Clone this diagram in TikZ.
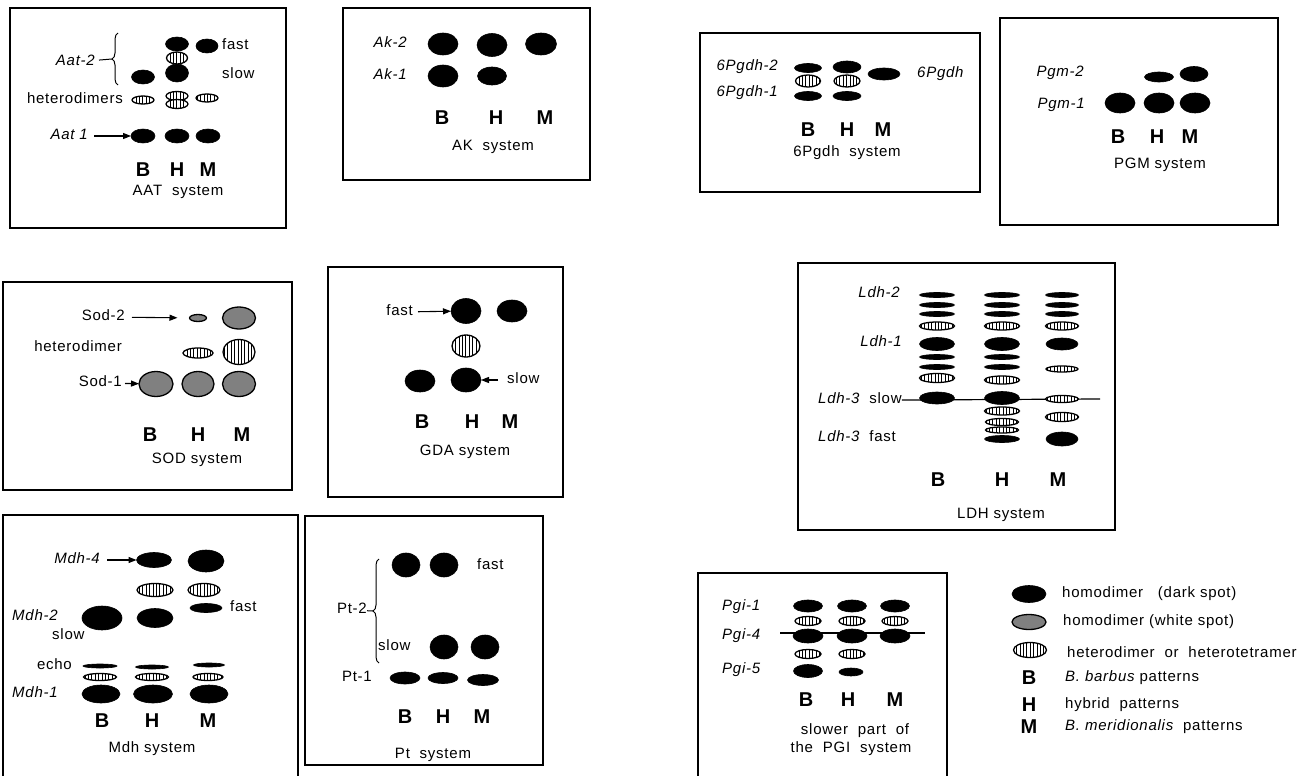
\documentclass[tikz,border=0pt]{standalone}
\usepackage{fontspec}
\setmainfont{Liberation Sans}[LetterSpace=5]
\usetikzlibrary{shapes.geometric,arrows.meta,patterns.meta,decorations.pathreplacing}
\newcommand\blob[6]{\node[#1,minimum width=#5pt,minimum height=#6pt] (#2) at (#3,#4) {};}
\tikzset{
 spotbase/.style={ellipse, inner sep=0pt, outer sep=0pt},
 dark/.style={spotbase, fill=black, draw=black, line width=0.6pt},
 grey/.style={spotbase, fill=black!50, draw=black, line width=1.3pt},
 striped/.style={spotbase, draw=black, line width=1.3pt, preaction={fill=white}, pattern={Lines[angle=90,distance=3.4pt,line width=0.9pt]}},
 lab/.style={inner sep=0pt, font=\fontsize{15}{17}\selectfont, text height=10.5pt, text depth=3.2pt},
 ilab/.style={lab, font=\fontsize{15}{17}\selectfont\itshape},
 bhm/.style={inner sep=0pt, font=\fontsize{20}{22}\selectfont\bfseries},
 box/.style={draw=black, line width=1.3pt},
 arr/.style={line width=1.1pt, -{Triangle[length=8pt,width=6pt]}},
 brc/.style={line width=1pt, decorate, decoration={brace, amplitude=6pt}},
 thin/.style={line width=1pt},
}
\begin{document}
\begin{tikzpicture}[x=1pt,y=-1pt]
\useasboundingbox (0,0) rectangle (1306,776);
% ---------------- AAT
\draw[box] (10,8) rectangle (286,228);
\node[ilab, anchor=east] (aat2) at (95,62) {Aat-2};
\draw[brc] (118,85) -- (118,33);
\coordinate (aat2tip) at (112,59);
\draw[thin, shorten <=4pt] (aat2) -- (aat2tip);
\blob{dark}{aBs}{143}{77}{23}{14}
\blob{dark}{aHf}{177}{44}{23}{14}
\blob{dark}{aHs}{177}{73}{23}{18}
\blob{striped}{aHm}{177}{58}{21}{12}
\blob{dark}{aMf}{207}{46}{22}{14}
\node[lab, anchor=west] (afast) at (222,46) {fast};
\node[lab, anchor=west] (aslow) at (222,75) {slow};
\node[lab, anchor=east] (ahet) at (123,100) {heterodimers};
\blob{striped}{aBh}{143}{100}{22}{8}
\blob{striped}{aHhA}{177}{96}{22}{9}
\blob{striped}{aHhB}{177}{104}{22}{9}
\blob{striped}{aMh}{207}{98}{22}{8}
\node[ilab, anchor=east] (aat1) at (88,136) {Aat 1};
\blob{dark}{aBa}{143}{136}{24}{14}
\blob{dark}{aHa}{177}{136}{24}{14}
\blob{dark}{aMa}{208}{136}{24}{14}
\draw[arr, shorten <=6pt] (aat1) -- (aBa);
\node[bhm] (aB) at (143,170) {B};
\node[bhm] (aH) at (177,170) {H};
\node[bhm] (aM) at (208,170) {M};
\node[lab] (atit) at (178,192) {AAT\ \ system};
% ---------------- AK
\draw[box] (343,8) rectangle (590,180);
\node[ilab, anchor=east] (ak2) at (407,44) {Ak-2};
\node[ilab, anchor=east] (ak1) at (407,76) {Ak-1};
\blob{dark}{kB2}{443}{44}{30}{22}
\blob{dark}{kH2}{492}{45}{30}{23}
\blob{dark}{kM2}{541}{44}{31}{22}
\blob{dark}{kB1}{443}{76}{30}{22}
\blob{dark}{kH1}{492}{76}{29}{18}
\node[bhm] (kB) at (442,118) {B};
\node[bhm] (kH) at (496,118) {H};
\node[bhm] (kM) at (545,118) {M};
\node[lab] (ktit) at (493,147) {AK\ \ system};
% ---------------- 6Pgdh
\draw[box] (700,33) rectangle (980,192);
\node[ilab, anchor=east] (pg2) at (778,67) {6Pgdh-2};
\node[ilab, anchor=east] (pg1) at (778,93) {6Pgdh-1};
\blob{dark}{gBa}{808}{68}{27}{9}
\blob{dark}{gBc}{808}{96}{27}{9}
\blob{striped}{gBb}{808}{81}{25}{12}
\blob{dark}{gHa}{847}{67}{28}{12}
\blob{dark}{gHc}{847}{96}{28}{9}
\blob{striped}{gHb}{847}{81}{26}{12}
\blob{dark}{gMa}{884}{74}{32}{12}
\node[ilab, anchor=west] (pgm) at (917,74) {6Pgdh};
\node[bhm] (gB) at (808,130) {B};
\node[bhm] (gH) at (847,130) {H};
\node[bhm] (gM) at (883,130) {M};
\node[lab] (gtit) at (847,153) {6Pgdh\ \ system};
% ---------------- PGM
\draw[box] (1000,18) rectangle (1278,225);
\node[ilab, anchor=east] (pm2) at (1084,73) {Pgm-2};
\node[ilab, anchor=east] (pm1) at (1085,105) {Pgm-1};
\blob{dark}{mH2x}{1159}{77}{29}{10}
\blob{dark}{mM2x}{1194}{74}{28}{15}
\blob{dark}{mB1x}{1120}{103}{30}{20}
\blob{dark}{mH1x}{1159}{103}{30}{20}
\blob{dark}{mM1x}{1195}{103}{30}{20}
\node[bhm] (pB) at (1118,137) {B};
\node[bhm] (pH) at (1157,137) {H};
\node[bhm] (pM) at (1190,137) {M};
\node[lab] (ptit) at (1160,165) {PGM system};
% ---------------- SOD
\draw[box] (3,282) rectangle (292,490);
\node[lab, anchor=east] (sod2) at (125,317) {Sod-2};
\blob{grey}{sH2}{198}{318}{17}{7}
\blob{grey}{sM2}{239}{318}{33}{22}
\draw[arr, shorten <=7pt, shorten >=12pt] (sod2) -- (sH2);
\node[lab, anchor=east] (shet) at (122,348) {heterodimer};
\blob{striped}{sHh}{198}{353}{30}{10}
\blob{striped}{sMh}{239}{352}{32}{25}
\node[lab, anchor=east] (sod1) at (122,383) {Sod-1};
\blob{grey}{sB1}{156}{384}{34}{25}
\blob{grey}{sH1}{198}{384}{32}{25}
\blob{grey}{sM1}{239}{384}{33}{25}
\draw[arr, shorten <=3pt] (sod1) -- (sB1);
\node[bhm] (sB) at (150,435) {B};
\node[bhm] (sH) at (198,435) {H};
\node[bhm] (sM) at (242,435) {M};
\node[lab] (stit) at (197,460) {SOD system};
% ---------------- GDA
\draw[box] (328,267) rectangle (563,497);
\node[lab, anchor=east] (dfast) at (413,312) {fast};
\blob{dark}{dHf}{466}{311}{30}{25}
\blob{dark}{dMf}{512}{311}{30}{22}
\draw[arr, shorten <=5pt] (dfast) -- (dHf);
\blob{striped}{dHh}{466}{346}{28}{22}
\blob{dark}{dBs}{420}{381}{30}{22}
\blob{dark}{dHs}{466}{380}{30}{24}
\node[lab, anchor=west] (dslow) at (507,380) {slow};
\draw[arr, shorten <=9pt] (dslow) -- (dHs);
\node[bhm] (dB) at (422,422) {B};
\node[bhm] (dH) at (472,422) {H};
\node[bhm] (dM) at (510,422) {M};
\node[lab] (dtit) at (465,452) {GDA system};
% ---------------- LDH
\draw[box] (798,263) rectangle (1115,530);
\node[ilab, anchor=east] (ld2) at (900,294) {Ldh-2};
\node[ilab, anchor=east] (ld1) at (902,343) {Ldh-1};
\node[lab, anchor=west] (ld3s) at (818,400) {\itshape Ldh-3\ \ \upshape slow};
\node[lab, anchor=west] (ld3f) at (818,438) {\itshape Ldh-3\ \ \upshape fast};
\coordinate (ldR) at (1100,399);
\draw[line width=1.2pt] (ld3s.east) -- (ldR);
% B column
\blob{dark}{lBa}{937}{295}{35}{5}
\blob{dark}{lBb}{937}{305}{35}{5}
\blob{dark}{lBc}{937}{314}{35}{5}
\blob{striped}{lBd}{937}{326}{35}{8}
\blob{dark}{lBe}{937}{344}{35}{13}
\blob{dark}{lBf}{937}{357}{35}{5}
\blob{dark}{lBg}{937}{367}{35}{5}
\blob{striped}{lBh}{937}{378}{35}{9}
\blob{dark}{lBi}{937}{398}{35}{12}
% H column
\blob{dark}{lHa}{1002}{295}{35}{5}
\blob{dark}{lHb}{1002}{305}{35}{5}
\blob{dark}{lHc}{1002}{314}{35}{5}
\blob{striped}{lHd}{1002}{326}{35}{8}
\blob{dark}{lHe}{1002}{344}{35}{13}
\blob{dark}{lHf}{1002}{357}{35}{5}
\blob{dark}{lHg}{1002}{367}{35}{5}
\blob{striped}{lHh}{1002}{380}{35}{8}
\blob{dark}{lHi}{1002}{398}{35}{13}
\blob{striped}{lHj}{1002}{411}{35}{8}
\blob{striped}{lHk}{1002}{422}{33}{7}
\blob{striped}{lHl}{1002}{430}{33}{6}
\blob{dark}{lHm}{1002}{439}{35}{7}
% M column
\blob{dark}{lMa}{1062}{295}{33}{5}
\blob{dark}{lMb}{1062}{305}{33}{5}
\blob{dark}{lMc}{1062}{314}{33}{5}
\blob{striped}{lMd}{1062}{326}{33}{8}
\blob{dark}{lMe}{1062}{344}{32}{12}
\blob{striped}{lMf}{1062}{369}{32}{6}
\blob{striped}{lMg}{1062}{399}{33}{7}
\blob{striped}{lMh}{1062}{417}{33}{9}
\blob{dark}{lMi}{1062}{439}{32}{14}
\node[bhm] (lB) at (938,480) {B};
\node[bhm] (lH) at (1002,480) {H};
\node[bhm] (lM) at (1058,480) {M};
\node[lab] (ltit) at (1001,515) {LDH system};
% ---------------- Mdh
\draw[box] (3,776) -- (3,515) -- (298,515) -- (298,776);
\node[ilab, anchor=east] (md4) at (100,560) {Mdh-4};
\blob{dark}{hH4}{154}{560}{35}{15}
\blob{dark}{hM4}{206}{561}{36}{22}
\draw[arr, shorten <=7pt] (md4) -- (hH4);
\blob{striped}{hHs}{155}{590}{36}{13}
\blob{striped}{hMs}{204}{590}{32}{13}
\blob{dark}{hMf}{206}{608}{32}{9}
\node[lab, anchor=west] (hfast) at (230,608) {fast};
\node[ilab, anchor=west] (md2) at (12,617) {Mdh-2};
\node[lab, anchor=west] (hslow) at (52,636) {slow};
\blob{dark}{hB2}{102}{618}{40}{24}
\blob{dark}{hH2}{155}{618}{36}{19}
\node[lab, anchor=east] (hecho) at (72,666) {echo};
\blob{dark}{hBe}{100}{666}{34}{4}
\blob{dark}{hHe}{152}{667}{33}{4}
\blob{dark}{hMe}{209}{665}{31}{4}
\blob{striped}{hBt}{100}{677}{33}{7}
\blob{striped}{hHt}{152}{677}{33}{7}
\blob{striped}{hMt}{208}{677}{30}{7}
\blob{dark}{hB1}{101}{694}{38}{18}
\blob{dark}{hH1}{153}{694}{39}{18}
\blob{dark}{hM1}{209}{694}{38}{18}
\node[ilab, anchor=west] (md1) at (12,694) {Mdh-1};
\node[bhm] (hB) at (102,721) {B};
\node[bhm] (hH) at (152,721) {H};
\node[bhm] (hM) at (208,721) {M};
\node[lab] (htit) at (152,749) {Mdh system};
% ---------------- Pt
\draw[box] (305,516) rectangle (543,765);
\draw[brc] (379,663) -- (379,559);
\node[lab, anchor=east] (pt2) at (367,610) {Pt-2};
\coordinate (pttip) at (373,611);
\draw[thin] (pt2) -- (pttip);
\blob{dark}{tBf}{406}{565}{28}{24}
\blob{dark}{tHf}{444}{565}{28}{24}
\node[lab, anchor=west] (tfast) at (477,566) {fast};
\node[lab, anchor=west] (tslow) at (378,647) {slow};
\blob{dark}{tHs}{444}{647}{28}{24}
\blob{dark}{tMs}{485}{647}{28}{24}
\node[lab, anchor=east] (pt1) at (372,678) {Pt-1};
\blob{dark}{tB1}{405}{678}{30}{12}
\blob{dark}{tH1}{443}{678}{30}{11}
\blob{dark}{tM1}{483}{680}{31}{11}
\node[bhm] (tB) at (405,717) {B};
\node[bhm] (tH) at (443,717) {H};
\node[bhm] (tM) at (482,717) {M};
\node[lab] (ttit) at (433,755) {Pt\ \ system};
% ---------------- PGI
\draw[box] (698,776) -- (698,573) -- (947,573) -- (947,776);
\node[ilab, anchor=west] (pi1) at (722,607) {Pgi-1};
\node[ilab, anchor=west] (pi4) at (722,636) {Pgi-4};
\node[ilab, anchor=west] (pi5) at (722,670) {Pgi-5};
\coordinate (piL) at (780,633);
\coordinate (piR) at (925,633);
\draw[line width=1.2pt] (piL) -- (piR);
\blob{dark}{iBa}{808}{606}{29}{12}
\blob{dark}{iHa}{852}{606}{29}{12}
\blob{dark}{iMa}{895}{606}{29}{12}
\blob{striped}{iBb}{808}{621}{26}{9}
\blob{striped}{iHb}{852}{621}{26}{9}
\blob{striped}{iMb}{895}{621}{26}{9}
\blob{dark}{iBc}{808}{636}{30}{14}
\blob{dark}{iHc}{852}{636}{30}{14}
\blob{dark}{iMc}{895}{636}{30}{14}
\blob{striped}{iBd}{808}{654}{26}{9}
\blob{striped}{iHd}{852}{654}{26}{9}
\blob{dark}{iBe}{808}{671}{29}{13}
\blob{dark}{iHe}{851}{672}{24}{8}
\node[bhm] (iB) at (806,700) {B};
\node[bhm] (iH) at (848,700) {H};
\node[bhm] (iM) at (895,700) {M};
\node[lab] (itA) at (855,731) {slower\ \ part\ \ of};
\node[lab] (itB) at (851,749) {the\ \ PGI\ \ system};
% ---------------- legend
\blob{dark}{lg1}{1029}{594}{34}{17}
\node[lab, anchor=west] (lt1) at (1062,594) {homodimer\ \ \ (dark spot)};
\blob{grey}{lg2}{1029}{622}{34}{15}
\node[lab, anchor=west] (lt2) at (1063,622) {homodimer (white spot)};
\blob{striped}{lg3}{1030}{650}{33}{15}
\node[lab, anchor=west] (lt3) at (1067,654) {heterodimer\ \ or\ \ heterotetramer};
\node[bhm] (lgB) at (1029,678) {B};
\node[lab, anchor=west] (lt4) at (1065,678) {\itshape B. barbus\upshape\ patterns};
\node[bhm] (lgH) at (1029,705) {H};
\node[lab, anchor=west] (lt5) at (1065,705) {hybrid\ \ patterns};
\node[bhm] (lgM) at (1029,727) {M};
\node[lab, anchor=west] (lt6) at (1065,727) {\itshape B. meridionalis\upshape\ \ patterns};
\end{tikzpicture}
\end{document}
